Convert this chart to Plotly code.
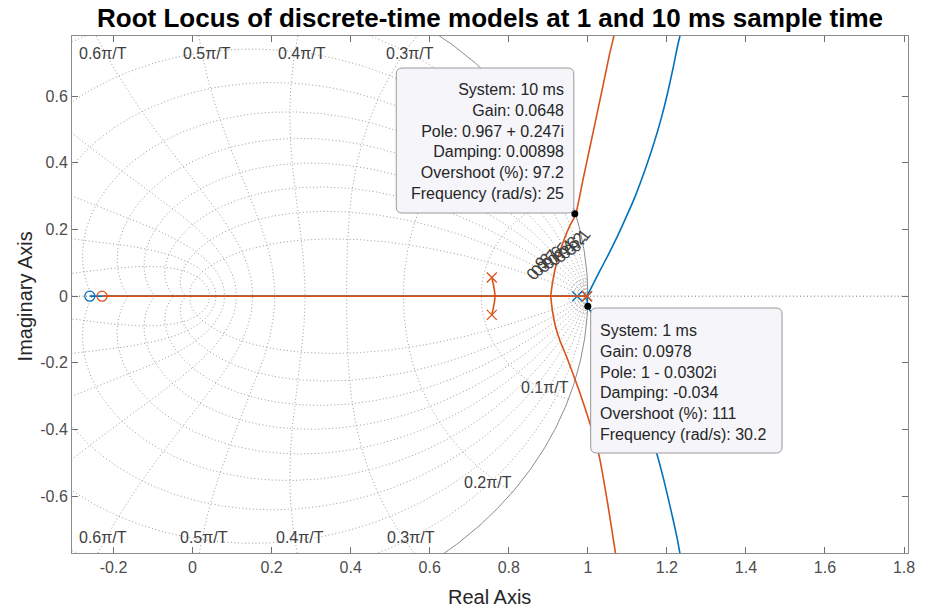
import numpy as np
import plotly.graph_objects as go

# ---------------- data ----------------
# 10 ms model (orange)
ms10_poles_re = [0.757, 0.757, 0.998]
ms10_poles_im = [0.056, -0.056, 0.0]
ms10_zero_re = [-0.229]
ms10_zero_im = [0.0]
ms10_real_x = [-0.229, 0.998]
ms10_real_y = [0.0, 0.0]
ms10_arc_x = [0.757, 0.761, 0.764, 0.765, 0.764, 0.761, 0.757]
ms10_arc_y = [0.056, 0.035, 0.015, 0.0, -0.015, -0.035, -0.056]
ms10_up_x = [0.906, 0.910, 0.917, 0.927, 0.940, 0.954, 0.969, 0.987, 1.005, 1.023, 1.040, 1.054, 1.066, 1.074]
ms10_up_y = [0.0, 0.035, 0.080, 0.125, 0.170, 0.210, 0.245, 0.345, 0.445, 0.545, 0.640, 0.720, 0.780, 0.820]
ms10_lo_x = [0.906, 0.910, 0.918, 0.930, 0.944, 0.960, 0.980, 1.005, 1.028, 1.050, 1.070, 1.076]
ms10_lo_y = [0.0, -0.040, -0.090, -0.135, -0.175, -0.225, -0.290, -0.380, -0.475, -0.620, -0.771, -0.820]

# 1 ms model (blue)
ms1_poles_re = [0.973, 0.998]
ms1_poles_im = [0.0, 0.0]
ms1_zero_re = [-0.260]
ms1_zero_im = [0.0]
ms1_real_x = [-0.260, 0.998]
ms1_real_y = [0.0, 0.0]
ms1_up_x = [0.998, 1.003, 1.015, 1.030, 1.050, 1.075, 1.100, 1.120, 1.145, 1.165, 1.185, 1.200, 1.215, 1.227, 1.235, 1.242]
ms1_up_y = [0.0, 0.012, 0.040, 0.075, 0.120, 0.180, 0.245, 0.300, 0.380, 0.450, 0.530, 0.600, 0.680, 0.750, 0.790, 0.830]
ms1_lo_x = [0.998, 1.000, 1.012, 1.030, 1.050, 1.075, 1.100, 1.125, 1.150, 1.174, 1.192, 1.210, 1.225, 1.233, 1.240]
ms1_lo_y = [0.0, -0.030, -0.055, -0.095, -0.140, -0.200, -0.265, -0.330, -0.400, -0.471, -0.550, -0.640, -0.720, -0.771, -0.820]

# data tips
tip10_pt = (0.967, 0.247)
tip1_pt = (1.0, -0.0302)
tip10_lines = ["System: 10 ms", "Gain: 0.0648", "Pole: 0.967 + 0.247i",
               "Damping: 0.00898", "Overshoot (%): 97.2", "Frequency (rad/s): 25"]
tip1_lines = ["System: 1 ms", "Gain: 0.0978", "Pole: 1 - 0.0302i",
              "Damping: -0.034", "Overshoot (%): 111", "Frequency (rad/s): 30.2"]

# grid definitions
zetas = [0.1, 0.2, 0.3, 0.4, 0.5, 0.6, 0.7, 0.8, 0.9]
wn_fracs = [0.1, 0.2, 0.3, 0.4, 0.5, 0.6, 0.7, 0.8, 0.9, 1.0]
wn_small = [0.004, 0.008, 0.012, 0.016]
wn_labels_top = ["0.6π/T", "0.5π/T", "0.4π/T", "0.3π/T"]
wn_labels_bot = ["0.6π/T", "0.5π/T", "0.4π/T", "0.3π/T"]
zeta_labels = ["0.9", "0.8", "0.7", "0.6", "0.5", "0.4", "0.3", "0.2", "0.1"]

xticks = [-0.2, 0, 0.2, 0.4, 0.6, 0.8, 1, 1.2, 1.4, 1.6, 1.8]
xticktext = ["-0.2", "0", "0.2", "0.4", "0.6", "0.8", "1", "1.2", "1.4", "1.6", "1.8"]
yticks = [-0.6, -0.4, -0.2, 0, 0.2, 0.4, 0.6]
yticktext = ["-0.6", "-0.4", "-0.2", "0", "0.2", "0.4", "0.6"]

# ---------------- layout geometry ----------------
W, H = 926, 612
ML, MR, MT, MB = 72, 11, 36, 59
XR = [-0.305, 1.81]
YR = [-0.77, 0.78]
PW, PH = W - ML - MR, H - MT - MB


def px2x(px):
    return XR[0] + (px - ML) / PW * (XR[1] - XR[0])


def px2y(py):
    return YR[1] - (py - MT) / PH * (YR[1] - YR[0])


BLUE = "#0072BD"
ORANGE = "#D95319"
GRIDC = "#9c9c9c"
GRIDDASH = "1px,2.5px"
TXT = "#404040"
FONT = "Liberation Sans, Arial, sans-serif"

fig = go.Figure()

# real-axis dotted line
fig.add_trace(go.Scatter(x=[XR[0], XR[1]], y=[0, 0], mode="lines",
                         line=dict(color="#707070", width=1, dash=GRIDDASH), hoverinfo="skip"))

# damping curves
for z in zetas:
    wmax = np.pi / np.sqrt(1 - z * z)
    w = np.linspace(0, wmax, 300)
    zz = np.exp(w * (-z + 1j * np.sqrt(1 - z * z)))
    for s in (1, -1):
        fig.add_trace(go.Scatter(x=zz.real, y=s * zz.imag, mode="lines",
                                 line=dict(color=GRIDC, width=1, dash=GRIDDASH), hoverinfo="skip"))

# natural frequency curves
for f in wn_fracs + wn_small:
    wt = f * np.pi
    zt = np.linspace(0, 1, 200)
    zz = np.exp(wt * (-zt + 1j * np.sqrt(1 - zt * zt)))
    for s in (1, -1):
        fig.add_trace(go.Scatter(x=zz.real, y=s * zz.imag, mode="lines",
                                 line=dict(color=GRIDC, width=1, dash=GRIDDASH), hoverinfo="skip"))

# unit circle
th = np.linspace(0, 2 * np.pi, 720)
fig.add_trace(go.Scatter(x=np.cos(th), y=np.sin(th), mode="lines",
                         line=dict(color="#8c8c8c", width=1), hoverinfo="skip"))

# ---- loci: 1 ms (blue) first, then 10 ms (orange)
bl = dict(color=BLUE, width=1.6)
fig.add_trace(go.Scatter(x=ms1_real_x, y=ms1_real_y, mode="lines", line=bl))
fig.add_trace(go.Scatter(x=ms1_up_x, y=ms1_up_y, mode="lines", line=dict(bl, shape="spline", smoothing=0.6)))
fig.add_trace(go.Scatter(x=ms1_lo_x, y=ms1_lo_y, mode="lines", line=dict(bl, shape="spline", smoothing=0.6)))
fig.add_trace(go.Scatter(x=ms1_poles_re, y=ms1_poles_im, mode="markers",
                         marker=dict(symbol="x-thin-open", size=10, color=BLUE, line=dict(color=BLUE, width=1.3))))
fig.add_trace(go.Scatter(x=ms1_zero_re, y=ms1_zero_im, mode="markers",
                         marker=dict(symbol="circle-open", size=10, color=BLUE, line=dict(color=BLUE, width=1.3))))

ol = dict(color=ORANGE, width=1.6)
fig.add_trace(go.Scatter(x=ms10_real_x, y=ms10_real_y, mode="lines", line=ol))
fig.add_trace(go.Scatter(x=ms10_arc_x, y=ms10_arc_y, mode="lines", line=dict(ol, shape="spline", smoothing=0.8)))
fig.add_trace(go.Scatter(x=ms10_up_x, y=ms10_up_y, mode="lines", line=dict(ol, shape="spline", smoothing=0.6)))
fig.add_trace(go.Scatter(x=ms10_lo_x, y=ms10_lo_y, mode="lines", line=dict(ol, shape="spline", smoothing=0.6)))
fig.add_trace(go.Scatter(x=ms10_poles_re, y=ms10_poles_im, mode="markers",
                         marker=dict(symbol="x-thin-open", size=10, color=ORANGE, line=dict(color=ORANGE, width=1.3))))
fig.add_trace(go.Scatter(x=ms10_zero_re, y=ms10_zero_im, mode="markers",
                         marker=dict(symbol="circle-open", size=10, color=ORANGE, line=dict(color=ORANGE, width=1.3))))


# ---- datatip boxes (rounded rectangles)
def rrect(px0, py0, px1, py1, r=6):
    def P(a, b):
        return f"{px2x(a):.5f},{px2y(b):.5f}"
    return (f"M {P(px0 + r, py0)} L {P(px1 - r, py0)} Q {P(px1, py0)} {P(px1, py0 + r)} "
            f"L {P(px1, py1 - r)} Q {P(px1, py1)} {P(px1 - r, py1)} "
            f"L {P(px0 + r, py1)} Q {P(px0, py1)} {P(px0, py1 - r)} "
            f"L {P(px0, py0 + r)} Q {P(px0, py0)} {P(px0 + r, py0)} Z")


for box in [(399, 68, 578, 213), (595, 308, 788, 453)]:
    fig.add_shape(type="path", path=rrect(*box), xref="x", yref="y",
                  line=dict(color="#9a9a9a", width=1), fillcolor="#f5f5fa", layer="above")

fig.add_trace(go.Scatter(x=[tip10_pt[0], tip1_pt[0]], y=[tip10_pt[1], tip1_pt[1]], mode="markers",
                         marker=dict(color="black", size=7, line=dict(color="black", width=0))))

annotations = []
annotations.append(dict(x=px2x(570), y=px2y(141.7), xref="x", yref="y", text="<br>".join(tip10_lines),
                        showarrow=False, xanchor="right", yanchor="middle", align="right",
                        font=dict(family=FONT, size=16, color="#262626")))
annotations.append(dict(x=px2x(602), y=px2y(382), xref="x", yref="y", text="<br>".join(tip1_lines),
                        showarrow=False, xanchor="left", yanchor="middle", align="left",
                        font=dict(family=FONT, size=16, color="#262626")))

# frequency labels
for lab, px in zip(wn_labels_top, [103, 208, 304, 413]):
    annotations.append(dict(x=px2x(px), y=px2y(53), xref="x", yref="y", text=lab, showarrow=False,
                            xanchor="center", yanchor="middle",
                            font=dict(family=FONT, size=16, color=TXT)))
for lab, px in zip(wn_labels_bot, [103, 205, 302, 414]):
    annotations.append(dict(x=px2x(px), y=px2y(537), xref="x", yref="y", text=lab, showarrow=False,
                            xanchor="center", yanchor="middle",
                            font=dict(family=FONT, size=16, color=TXT)))
annotations.append(dict(x=px2x(549), y=px2y(387), xref="x", yref="y", text="0.1π/T", showarrow=False,
                        xanchor="center", yanchor="middle",
                        font=dict(family=FONT, size=16, color=TXT)))
annotations.append(dict(x=px2x(491), y=px2y(482), xref="x", yref="y", text="0.2π/T", showarrow=False,
                        xanchor="center", yanchor="middle",
                        font=dict(family=FONT, size=16, color=TXT)))

# damping labels (crowded)
for i, lab in enumerate(zeta_labels):
    annotations.append(dict(x=px2x(541 + 5.4 * i), y=px2y(268 - 3.4 * i), xref="x", yref="y", text=lab,
                            showarrow=False, textangle=-52, xanchor="center", yanchor="middle",
                            font=dict(family=FONT, size=17, color=TXT)))

# axis titles
annotations.append(dict(x=(493 - ML) / PW, y=(H - MB - 597) / PH, xref="paper", yref="paper",
                        xanchor="center", yanchor="middle",
                        text="Real Axis", showarrow=False, font=dict(family=FONT, size=20, color="#262626")))
annotations.append(dict(x=(25 - ML) / PW, y=(H - MB - 296) / PH, xref="paper", yref="paper",
                        xanchor="center", yanchor="middle",
                        text="Imaginary Axis", showarrow=False, textangle=-90,
                        font=dict(family=FONT, size=20, color="#262626")))

axis_common = dict(showline=True, linecolor="#8c8c8c", linewidth=1, mirror="allticks",
                   ticks="inside", ticklen=6, tickcolor="#6e6e6e", tickwidth=1,
                   showgrid=False, zeroline=False,
                   tickfont=dict(family=FONT, size=16, color="#4d4d4d"))

fig.update_layout(
    width=W, height=H,
    margin=dict(l=ML, r=MR, t=MT, b=MB, pad=0),
    paper_bgcolor="white", plot_bgcolor="white",
    showlegend=False,
    title=dict(text="<b>Root Locus of discrete-time models at 1 and 10 ms sample time</b>",
               x=0.5, xref="paper", y=1 - 18 / H, yref="container", yanchor="middle", xanchor="center",
               font=dict(family=FONT, size=26, color="black")),
    xaxis=dict(axis_common, range=XR, tickvals=xticks, ticktext=xticktext),
    yaxis=dict(axis_common, range=YR, tickvals=yticks, ticktext=yticktext),
    annotations=annotations,
    hovermode=False,
)

fig.write_html("out.html")
